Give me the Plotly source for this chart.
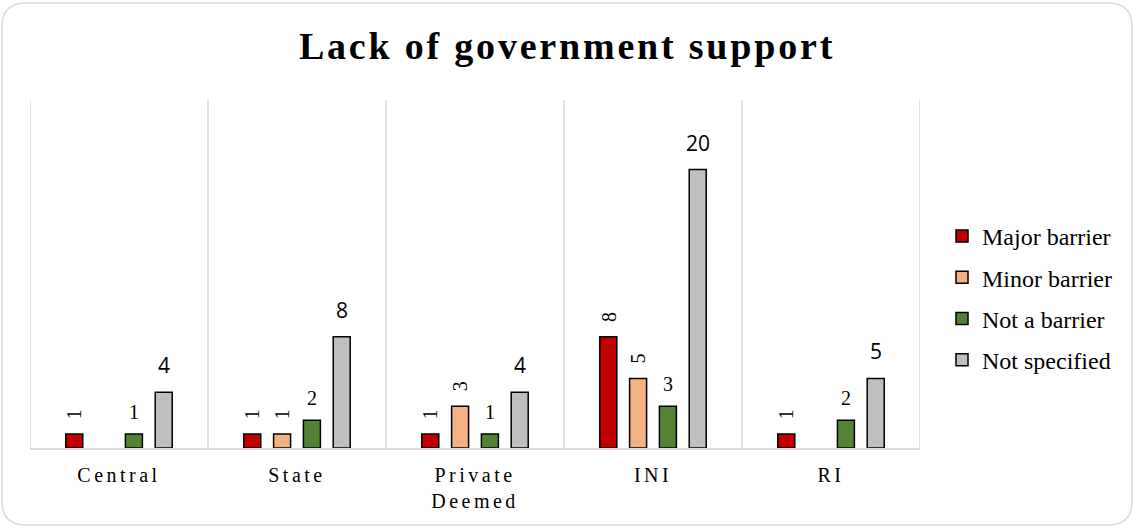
import plotly.graph_objects as go

categories = ["Central", "State", "Private<br>Deemed", "INI", "RI"]
series_names = ["Major barrier", "Minor barrier", "Not a barrier", "Not specified"]
major = [1, 1, 1, 8, 1]
minor = [None, 1, 3, 5, None]
not_barrier = [1, 2, 1, 3, 2]
not_specified = [4, 8, 4, 20, 5]
colors = ["#C00000", "#F4B183", "#548235", "#BFBFBF"]

W, H = 1134, 527
L, R, T, B = 30, 920, 100, 448
BARGAP, GROUPGAP = 0.33, 0.43

fig = go.Figure()
values = [major, minor, not_barrier, not_specified]
for i, (name, vals, col) in enumerate(zip(series_names, values, colors)):
    fig.add_trace(go.Bar(
        name=name, x=categories, y=vals,
        marker=dict(color=col, line=dict(color="#000", width=1.5)),
        legendgroup=name,
    ))

# data labels
cat_px = (R - L) / len(categories)
slot = cat_px * (1 - BARGAP) / len(series_names)
annotations = []
for i, vals in enumerate(values):
    for c, v in zip(categories, vals):
        if v is None:
            continue
        xs = (i - (len(series_names) - 1) / 2) * slot
        if i < 2:
            annotations.append(dict(
                x=c, y=v, xref="x", yref="y", text=str(v), showarrow=False,
                xanchor="center", yanchor="middle", textangle=-90,
                font=dict(family="Liberation Serif", size=20, color="#000"),
                xshift=xs, yshift=20))
        elif i == 2:
            annotations.append(dict(
                x=c, y=v, xref="x", yref="y", text=str(v), showarrow=False,
                xanchor="center", yanchor="bottom",
                font=dict(family="Liberation Serif", size=20, color="#000"),
                xshift=xs, yshift=9))
        else:
            annotations.append(dict(
                x=c, y=v, xref="x", yref="y", text=str(v), showarrow=False,
                xanchor="center", yanchor="bottom",
                font=dict(family="Open Sans", size=21, color="#000"),
                xshift=xs, yshift=11))

def xp(px):
    return (px - L) / (R - L)

def yp(py):
    return (B - py) / (B - T)

x0, x1, y0, y1, r = 2, 1132, 3, 525, 24
path = (f"M {xp(x0 + r)},{yp(y0)} L {xp(x1 - r)},{yp(y0)} "
        f"Q {xp(x1)},{yp(y0)} {xp(x1)},{yp(y0 + r)} "
        f"L {xp(x1)},{yp(y1 - r)} Q {xp(x1)},{yp(y1)} {xp(x1 - r)},{yp(y1)} "
        f"L {xp(x0 + r)},{yp(y1)} Q {xp(x0)},{yp(y1)} {xp(x0)},{yp(y1 - r)} "
        f"L {xp(x0)},{yp(y0 + r)} Q {xp(x0)},{yp(y0)} {xp(x0 + r)},{yp(y0)} Z")

shapes = [dict(type="path", path=path, xref="paper", yref="paper",
               line=dict(color="#D9D9D9", width=1.5), layer="below")]
for k in range(len(categories) + 1):
    shapes.append(dict(type="line", xref="x", yref="paper", x0=k - 0.5, x1=k - 0.5,
                       y0=0, y1=1, line=dict(color="#D9D9D9", width=1.5), layer="below"))

fig.update_layout(
    width=W, height=H,
    margin=dict(l=L, r=W - R, t=T, b=H - B, pad=0),
    paper_bgcolor="white", plot_bgcolor="white",
    barmode="group", bargap=BARGAP, bargroupgap=GROUPGAP,
    title=dict(text="<b>Lack of government support</b>", x=0.5, xref="container",
               xanchor="center", y=1 - 46 / H, yref="container", yanchor="middle",
               font=dict(family="Liberation Serif", size=38, color="#000")),
    xaxis=dict(range=[-0.5, len(categories) - 0.5], showgrid=False, showline=True,
               linecolor="#D9D9D9", linewidth=1.5, ticks="", ticklabelstandoff=8,
               tickfont=dict(family="Liberation Serif", size=20, color="#000")),
    yaxis=dict(range=[0, 25], visible=False, showgrid=False),
    legend=dict(x=xp(942), xanchor="left", y=yp(298), yanchor="middle",
                font=dict(family="Liberation Serif", size=24, color="#000"),
                tracegroupgap=7, itemwidth=30),
    shapes=shapes,
    annotations=annotations,
    showlegend=True,
)

post = """
var gd=document.getElementById('{plot_id}');
function styleIt(){
  gd.querySelectorAll('.xtick text').forEach(function(t){t.style.letterSpacing='3.5px';});
  gd.querySelectorAll('.gtitle').forEach(function(t){t.style.letterSpacing='2.8px';});
}
styleIt();
gd.on('plotly_afterplot', styleIt);
"""
fig.write_html("out.html", post_script=post)
